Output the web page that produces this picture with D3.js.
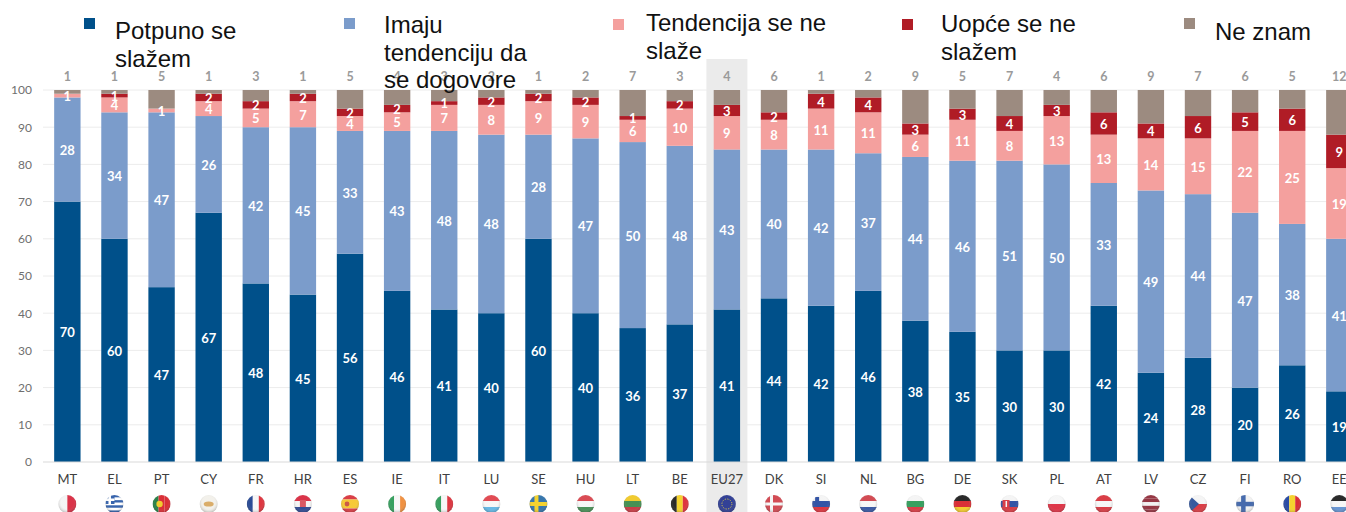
<!DOCTYPE html>
<meta charset="utf-8">
<style>
body { margin: 0; background: #fff; overflow: hidden; }
svg { display: block; }
.yaxis text { font: 12px Lato, sans-serif; fill: #6f6f6f; }
.xaxis text { font: 13px Lato, sans-serif; fill: #404040; }
.seg { font: bold 13px Lato, sans-serif; fill: #fff; text-anchor: middle; }
.dk { font: bold 12.5px Lato, sans-serif; fill: #9a9a9a; text-anchor: middle; }
.legend text { font: 24px "Liberation Sans", Arial, sans-serif; fill: #111; }
</style>

<svg class="chart" width="1346" height="512"></svg>

<script src="https://d3js.org/d3.v7.min.js"></script>
<script>

var countries = ["MT","EL","PT","CY","FR","HR","ES","IE","IT","LU","SE","HU","LT","BE","EU27","DK","SI","NL","BG","DE","SK","PL","AT","LV","CZ","FI","RO","EE"];

var potpuno =   [70,60,47,67,48,45,56,46,41,40,60,40,36,37,41,44,42,46,38,35,30,30,42,24,28,20,26,19];
var imaju =     [28,34,47,26,42,45,33,43,48,48,28,47,50,48,43,40,42,37,44,46,51,50,33,49,44,47,38,41];
var tendencija = [1, 4, 1, 4, 5, 7, 4, 5, 7, 8, 9, 9, 6,10, 9, 8,11,11, 6,11, 8,13,13,14,15,22,25,19];
var uopce =      [0, 1, 0, 2, 2, 2, 2, 2, 1, 2, 2, 2, 1, 2, 3, 2, 4, 4, 3, 3, 4, 3, 6, 4, 6, 5, 6, 9];
var neZnam =     [1, 1, 5, 1, 3, 1, 5, 4, 3, 2, 1, 2, 7, 3, 4, 6, 1, 2, 9, 5, 7, 4, 6, 9, 7, 6, 5,12];

var seriesKeys = ["potpuno","imaju","tendencija","uopce","neZnam"];
var seriesValues = [potpuno, imaju, tendencija, uopce, neZnam];
var yTicks = [0,10,20,30,40,50,60,70,80,90,100];

var colors = ["#00508a","#7b9ccb","#f4a09e","#b01c26","#9c8b80"];

// legend text is wrapped by hand, same breaks as the picture
var legendItems = [
  {lines: ["Potpuno se","slažem"], sx: 84, sy: 18, tx: 115, ty: 39},
  {lines: ["Imaju","tendenciju da","se dogovore"], sx: 344, sy: 18, tx: 384, ty: 33},
  {lines: ["Tendencija se ne","slaže"], sx: 613, sy: 19, tx: 646, ty: 31},
  {lines: ["Uopće se ne","slažem"], sx: 902, sy: 19, tx: 941, ty: 32},
  {lines: ["Ne znam"], sx: 1184, sy: 18, tx: 1215, ty: 40}
];

// stripes of each flag: direction + colours, extras drawn below
var flags = {
  MT: ["v", ["#f4f4f4","#d8283c"]],
  EL: ["h", ["#2a5aa8","#fff","#2a5aa8","#fff","#2a5aa8","#fff","#2a5aa8"]],
  PT: ["v", ["#1f7a3c","#d8202c","#d8202c"]],
  CY: ["h", ["#f2f0ea"]],
  FR: ["v", ["#1d3f8f","#f6f6f6","#dc2a34"]],
  HR: ["h", ["#d8283c","#f4f4f4","#27438f"]],
  ES: ["h", ["#d8303a","#f6c72c","#f6c72c","#d8303a"]],
  IE: ["v", ["#2a9a55","#f6f6f6","#f08a36"]],
  IT: ["v", ["#2a9a55","#f6f6f6","#dc2a34"]],
  LU: ["h", ["#e0404a","#f6f6f6","#5cb4e4"]],
  SE: ["h", ["#2a6ea8"]],
  HU: ["h", ["#d8404a","#f6f6f6","#3f8a50"]],
  LT: ["h", ["#f0c820","#3a8a48","#c8303a"]],
  BE: ["v", ["#1a1a1a","#f4d024","#dc2a34"]],
  EU27: ["h", ["#26348f"]],
  DK: ["h", ["#d0404a"]],
  SI: ["h", ["#f4f4f4","#2848a0","#dc2a34"]],
  NL: ["h", ["#d0404a","#f6f6f6","#2f4f9f"]],
  BG: ["h", ["#f4f4f4","#2a9a55","#d8303a"]],
  DE: ["h", ["#1a1a1a","#d8202c","#f4c820"]],
  SK: ["h", ["#f4f4f4","#2848a0","#d8303a"]],
  PL: ["h", ["#f6f6f6","#dc2a3c"]],
  AT: ["h", ["#d8303a","#f6f6f6","#d8303a"]],
  LV: ["h", ["#8f2a38","#8f2a38","#f0f0f0","#8f2a38","#8f2a38"]],
  CZ: ["h", ["#f4f4f4","#d8303a"]],
  FI: ["h", ["#f2f2f2"]],
  RO: ["v", ["#1f3f9f","#f4d024","#d8202c"]],
  EE: ["h", ["#1a1a1a","#f6f6f6","#5f8fd0"]]
};

var svg = d3.select("svg"),
    width = +svg.attr("width"),
    height = +svg.attr("height");

var rows = countries.map(function(c, i) {
  var row = {country: c};
  seriesKeys.forEach(function(k, j) { row[k] = seriesValues[j][i]; });
  return row;
});

var y = d3.scaleLinear().domain([0, 100]).range([462, 90]);

var x = d3.scaleBand()
    .domain(countries)
    .range([43.8, 43.8 + 28 * 47.11])
    .paddingInner(0.44)
    .paddingOuter(0.22);

var color = d3.scaleOrdinal().domain(seriesKeys).range(colors);
var cx = function(c) { return x(c) + x.bandwidth() / 2; };

var defs = svg.append("defs");
var gloss = defs.append("radialGradient").attr("id", "gloss").attr("cx", "50%").attr("cy", "42%").attr("r", "58%");
gloss.append("stop").attr("offset", "0.6").attr("stop-color", "#fff").attr("stop-opacity", 0.06);
gloss.append("stop").attr("offset", "1").attr("stop-color", "#333").attr("stop-opacity", 0.3);
defs.append("clipPath").attr("id", "flagClip").append("circle").attr("r", 9);
defs.append("filter").attr("id", "soft").append("feGaussianBlur").attr("stdDeviation", 0.45);

// grid first, the EU27 highlight goes over it
svg.append("g").selectAll("line")
    .data(yTicks.slice(1))
    .enter().append("line")
    .attr("x1", 43).attr("x2", width)
    .attr("y1", y).attr("y2", y)
    .attr("stroke", "#ececec");

svg.append("rect")
    .attr("x", cx("EU27") - 20.5)
    .attr("y", 59)
    .attr("width", 41)
    .attr("height", height - 59)
    .attr("fill", "#ebebeb");

var yAxis = svg.append("g")
    .attr("class", "yaxis")
    .attr("transform", "translate(35,0)")
    .call(d3.axisLeft(y).tickValues(yTicks).tickSize(0).tickPadding(3));
yAxis.select(".domain").remove();

var stacked = d3.stack().keys(seriesKeys)(rows);

var layer = svg.append("g").selectAll("g")
    .data(stacked)
    .enter().append("g")
    .attr("fill", function(d) { return color(d.key); });

layer.selectAll("rect")
    .data(function(d) { return d; })
    .enter().append("rect")
    .attr("x", function(d) { return x(d.data.country); })
    .attr("y", function(d) { return y(d[1]); })
    .attr("width", x.bandwidth())
    .attr("height", function(d) { return y(d[0]) - y(d[1]); });

// baseline
svg.append("line")
    .attr("x1", 43).attr("x2", width)
    .attr("y1", y(0)).attr("y2", y(0))
    .attr("stroke", "#d9d9d9");

// white values, not for the last series (those go above the bars) and not for zeros
stacked.slice(0, 4).forEach(function(s) {
  svg.append("g").selectAll("text")
      .data(s.filter(function(d) { return d[1] - d[0] > 0; }))
      .enter().append("text")
      .attr("class", "seg")
      .attr("x", function(d) { return cx(d.data.country); })
      .attr("y", function(d) { return y((d[0] + d[1]) / 2); })
      .attr("dy", "0.42em")
      .text(function(d) { return d[1] - d[0]; });
});

svg.append("g").selectAll("text")
    .data(rows)
    .enter().append("text")
    .attr("class", "dk")
    .attr("x", function(d) { return cx(d.country); })
    .attr("y", 81)
    .text(function(d) { return d.neZnam; });

var xAxis = svg.append("g")
    .attr("class", "xaxis")
    .attr("transform", "translate(0,472)")
    .call(d3.axisBottom(x).tickSize(0).tickPadding(3));
xAxis.select(".domain").remove();

// flags
var flag = svg.append("g").selectAll("g")
    .data(countries)
    .enter().append("g")
    .attr("transform", function(c) { return "translate(" + cx(c) + ",504)"; });

var inner = flag.append("g").attr("clip-path", "url(#flagClip)").attr("filter", "url(#soft)");

inner.each(function(c) {
  var g = d3.select(this),
      dir = flags[c][0],
      cols = flags[c][1],
      band = d3.scaleBand().domain(d3.range(cols.length)).range([-9, 9]);
  g.selectAll("rect")
      .data(cols)
      .enter().append("rect")
      .attr("x", function(d, i) { return dir == "v" ? band(i) : -9; })
      .attr("y", function(d, i) { return dir == "h" ? band(i) : -9; })
      .attr("width", dir == "v" ? band.bandwidth() : 18)
      .attr("height", dir == "h" ? band.bandwidth() : 18)
      .attr("fill", function(d) { return d; });

  var bar = function(bx, by, w, h, fill) {
    g.append("rect").attr("x", bx).attr("y", by).attr("width", w).attr("height", h).attr("fill", fill);
  };
  if (c == "SE") { bar(-4, -9, 4, 18, "#f4d024"); bar(-9, -2, 18, 4, "#f4d024"); }
  if (c == "DK") { bar(-4, -9, 3, 18, "#f6f6f6"); bar(-9, -1.5, 18, 3, "#f6f6f6"); }
  if (c == "FI") { bar(-4, -9, 4.5, 18, "#3a62a8"); bar(-9, -2.2, 18, 4.5, "#3a62a8"); }
  if (c == "EL") { bar(-9, -9, 9, 9, "#2a5aa8"); bar(-6, -9, 2.5, 9, "#fff"); bar(-9, -5.5, 9, 2.5, "#fff"); }
  if (c == "PT") { g.append("circle").attr("cx", -2).attr("r", 3.2).attr("fill", "#f0c820"); }
  if (c == "ES") { g.append("circle").attr("cx", -3).attr("r", 2.4).attr("fill", "#c8503a"); }
  if (c == "CY") { g.append("ellipse").attr("rx", 5).attr("ry", 2.6).attr("fill", "#d8a860"); }
  if (c == "HR") { bar(-3, -4, 6, 7, "#d8505a"); }
  if (c == "SI") { bar(-6, -7, 4, 5, "#2848a0"); }
  if (c == "SK") { bar(-7, -4, 7, 8, "#d8303a"); bar(-4, -3, 1.5, 6, "#f4f4f4"); }
  if (c == "CZ") { g.append("path").attr("d", d3.line()([[-9, -9], [1, 0], [-9, 9]])).attr("fill", "#2a4f98"); }
  if (c == "EU27") {
    g.append("circle").attr("r", 5).attr("fill", "none").attr("stroke", "#d8c840")
        .attr("stroke-width", 1).attr("stroke-dasharray", "1.2 1.4");
  }
});

flag.append("circle")
    .attr("r", 9)
    .attr("fill", "url(#gloss)");

// legend sits on top of the bar labels, it overlaps them in the picture
var legend = svg.append("g").attr("class", "legend")
    .selectAll("g")
    .data(legendItems)
    .enter().append("g");

legend.append("rect")
    .attr("x", function(d) { return d.sx; })
    .attr("y", function(d) { return d.sy; })
    .attr("width", 11)
    .attr("height", 11)
    .attr("fill", function(d, i) { return colors[i]; });

legend.append("text")
    .each(function(d) {
      d3.select(this).selectAll("tspan")
          .data(d.lines)
          .enter().append("tspan")
          .attr("x", d.tx)
          .attr("y", function(l, i) { return d.ty + i * 27.7; })
          .text(function(l) { return l; });
    });

</script>
